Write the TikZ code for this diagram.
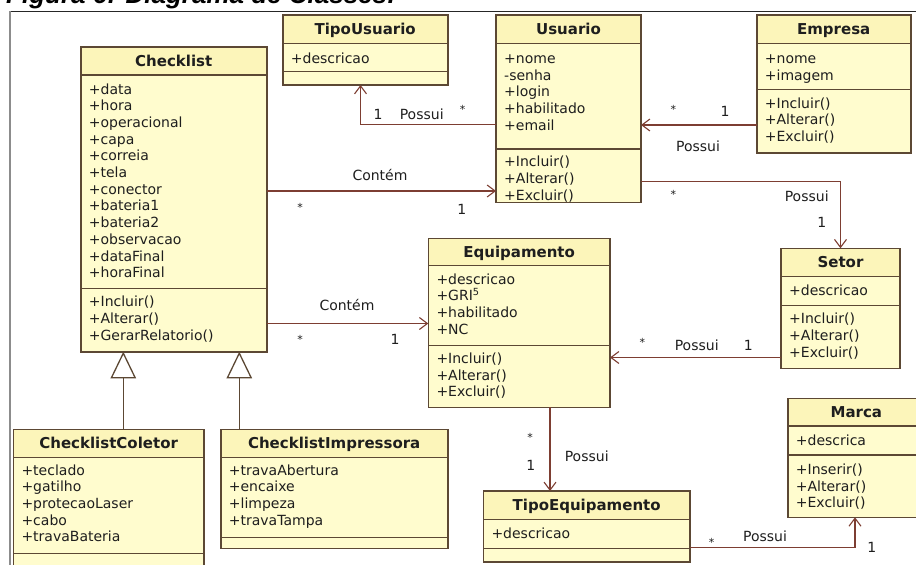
\documentclass[tikz,border=0pt]{standalone}
\usepackage{fontspec}
\setmainfont{DejaVu Sans}
\newfontfamily\capfont{Liberation Sans}
\usetikzlibrary{arrows.meta,calc}
\definecolor{boxfill}{RGB}{255,252,206}
\definecolor{titlefill}{RGB}{252,245,186}
\definecolor{boxline}{RGB}{92,72,52}
\definecolor{conn}{RGB}{125,62,50}
\definecolor{txt}{RGB}{30,30,30}
\tikzset{
  classbox/.style={draw=boxline, line width=1.6pt, rectangle, inner sep=0pt, outer sep=0pt},
  sepline/.style={draw=boxline, line width=1.4pt},
  titletext/.style={anchor=base, inner sep=0pt, text=txt, font=\fontsize{15}{18}\selectfont\bfseries},
  attrtext/.style={anchor=base west, inner sep=0pt, text=txt, font=\fontsize{14}{16.7}\selectfont},
  lbl/.style={anchor=base, inner sep=0pt, text=txt, font=\fontsize{14}{16}\selectfont},
  star/.style={anchor=base, inner sep=0pt, text=txt, font=\fontsize{11}{12}\selectfont},
  assoc/.style={draw=conn, line width=1.5pt, -{Straight Barb[length=8pt,width=12pt,line width=1.1pt]}},
  gen/.style={draw=boxline, line width=1.4pt, -{Triangle[open,length=26.6pt,width=25.4pt,fill=white,line width=1.3pt]}},
}
% #1 name, #2 x1, #3 y1, #4 x2, #5 y2, #6 sep1, #7 sep2, #8 title
\newcommand\classbox[8]{%
  \fill[boxfill] (#2,#6) rectangle (#4,#5);
  \fill[titlefill] (#2,#3) rectangle (#4,#6);
  \node[classbox, minimum width={#4-#2}, minimum height={#5-#3}, anchor=north west] (#1) at (#2,#3) {};
  \draw[sepline] (#2,#6) -- (#4,#6);
  \draw[sepline] (#2,#7) -- (#4,#7);
  \node[titletext] (#1-t) at ({(#2+#4)/2},{(#3+#6)/2+5.3}) {#8};
}
% #1 prefix, #2 x, #3 first baseline, #4 list
\newcommand\linelist[4]{%
  \foreach \t [count=\i] in {#4} \node[attrtext] (#1-\i) at (#2,{#3+(\i-1)*16.7}) {\t};
}
\begin{document}
\begin{tikzpicture}[x=1pt,y=-1pt]
\useasboundingbox (0,0) rectangle (916,565);
\clip (0,0) rectangle (916,565);
\fill[white] (0,0) rectangle (916,565);
% caption and frame
\node[anchor=base west, inner sep=0pt, font=\capfont\bfseries\itshape\fontsize{26}{30}\selectfont] (caption) at (6,3.5) {Figura 6: Diagrama de Classes:};
\draw[black!85, line width=1pt] (9,11.7) -- (930,11.7);
\draw[black!45, line width=2pt] (10,11.2) -- (10,580);

% classes
\classbox{checklist}{80.7}{46.7}{266.7}{351.7}{75}{288.3}{Checklist}
\linelist{checklist-a}{88.7}{94}{+data,+hora,+operacional,+capa,+correia,+tela,+conector,+bateria1,+bateria2,+observacao,+dataFinal,+horaFinal}
\linelist{checklist-m}{88.7}{306.7}{+Incluir(),+Alterar(),+GerarRelatorio()}

\classbox{tipousuario}{282.7}{15}{447.7}{85}{43.3}{71.7}{TipoUsuario}
\linelist{tipousuario-a}{290.7}{63.3}{+descricao}

\classbox{usuario}{496}{15}{641}{202.3}{43.3}{149}{Usuario}
\linelist{usuario-a}{504}{63.3}{+nome,-senha,+login,+habilitado,+email}
\linelist{usuario-m}{504}{166.7}{+Incluir(),+Alterar(),+Excluir()}

\classbox{empresa}{756.7}{15}{910.7}{152.7}{43.3}{89.3}{Empresa}
\linelist{empresa-a}{764.7}{63.3}{+nome,+imagem}
\linelist{empresa-m}{764.7}{108}{+Incluir(),+Alterar(),+Excluir()}

\classbox{equip}{428.3}{238.3}{610}{407.3}{265.7}{345.7}{Equipamento}
\linelist{equip-a}{436.3}{284}{+descricao,+GRI\textsuperscript{5},+habilitado,+NC}
\linelist{equip-m}{436.3}{363.3}{+Incluir(),+Alterar(),+Excluir()}

\classbox{setor}{781}{248.3}{900}{368.3}{276.7}{305.7}{Setor}
\linelist{setor-a}{789}{295}{+descricao}
\linelist{setor-m}{789}{323.8}{+Incluir(),+Alterar(),+Excluir()}

\classbox{marca}{787.7}{398.3}{925}{517.3}{426}{455}{Marca}
\linelist{marca-a}{795.7}{445}{+descrica}
\linelist{marca-m}{795.7}{474.5}{+Inserir(),+Alterar(),+Excluir()}

\classbox{tipoequip}{483.3}{491}{690}{561.7}{519.3}{548.3}{TipoEquipamento}
\linelist{tipoequip-a}{491.3}{538.3}{+descricao}

\classbox{coletor}{13.3}{429.3}{204}{590}{457.3}{553.3}{ChecklistColetor}
\linelist{coletor-a}{21.3}{475}{+teclado,+gatilho,+protecaoLaser,+cabo,+travaBateria}

\classbox{impressora}{220.7}{429.3}{447.7}{548.3}{457.3}{537.3}{ChecklistImpressora}
\linelist{impressora-a}{228.7}{475}{+travaAbertura,+encaixe,+limpeza,+travaTampa}

% connectors
\draw[assoc] (usuario.west |- 0,124.5) -| (tipousuario.south -| 360.5,0);
\node[lbl] (l1a) at (378,119) {1};
\node[lbl] (l1b) at (421.7,119) {Possui};
\node[star] (l1c) at (462.7,113.5) {*};

\draw[assoc] (checklist.east |- 0,191) -- (usuario.west |- 0,191);
\node[lbl] (l2a) at (380,180) {Contém};
\node[star] (l2b) at (300,211.5) {*};
\node[lbl] (l2c) at (461.7,214) {1};

\draw[assoc] (empresa.west |- 0,125) -- (usuario.east |- 0,125);
\node[star] (l3a) at (673.3,113.5) {*};
\node[lbl] (l3b) at (725,116) {1};
\node[lbl] (l3c) at (698,151.5) {Possui};

\draw[assoc] (usuario.east |- 0,181.5) -| (setor.north);
\node[star] (l4a) at (673.3,198.5) {*};
\node[lbl] (l4b) at (806.7,201.7) {Possui};
\node[lbl] (l4c) at (821.7,227.5) {1};

\draw[assoc] (checklist.east |- 0,323.5) -- (equip.west |- 0,323.5);
\node[lbl] (l5a) at (347,310) {Contém};
\node[star] (l5b) at (300,343.5) {*};
\node[lbl] (l5c) at (395,344.3) {1};

\draw[assoc] (setor.west |- 0,357.5) -- (equip.east |- 0,357.5);
\node[star] (l6a) at (642.3,346.5) {*};
\node[lbl] (l6b) at (696.7,350.7) {Possui};
\node[lbl] (l6c) at (748.3,350.5) {1};

\draw[assoc] (equip.south -| 550,0) -- (tipoequip.north -| 550,0);
\node[star] (l7a) at (530,441.5) {*};
\node[lbl] (l7b) at (530.7,470) {1};
\node[lbl] (l7c) at (586.7,461.7) {Possui};

\draw[assoc] (tipoequip.east |- 0,547.5) -| (marca.south -| 855,0);
\node[star] (l8a) at (711.7,546.5) {*};
\node[lbl] (l8b) at (765,541.7) {Possui};
\node[lbl] (l8c) at (871.7,552.7) {1};

% generalizations
\draw[gen] (coletor.north -| 123.3,0) -- (checklist.south -| 123.3,0);
\draw[gen] (impressora.north -| 239.3,0) -- (checklist.south -| 239.3,0);
\end{tikzpicture}
\end{document}
